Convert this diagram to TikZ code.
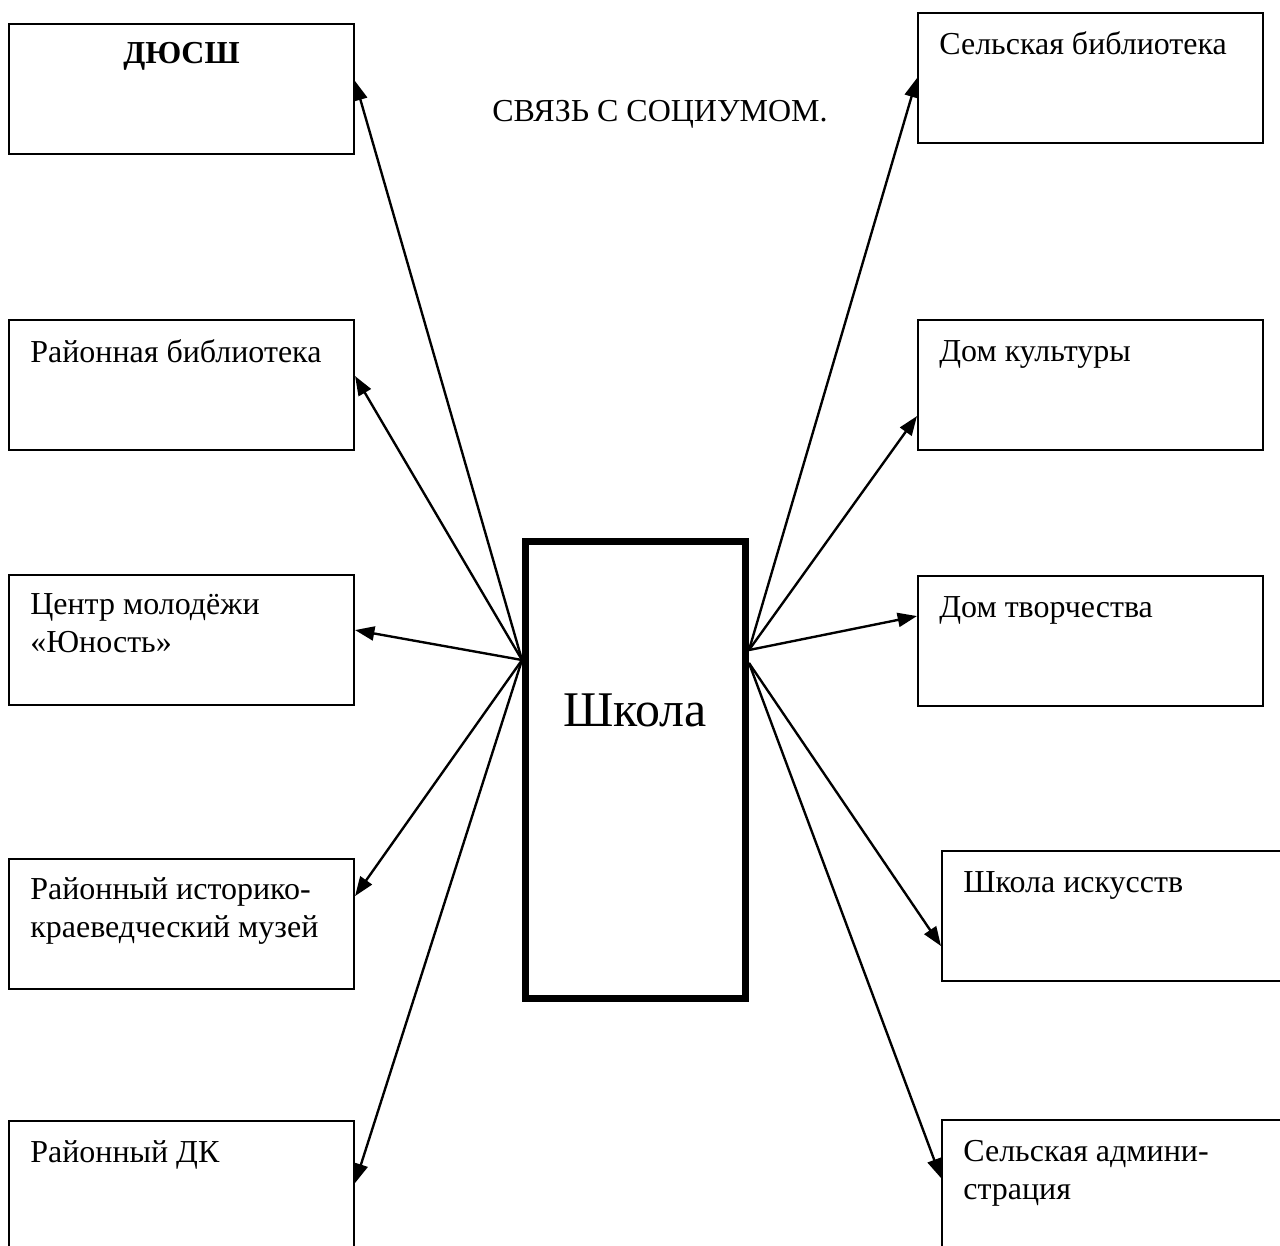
\documentclass[tikz,border=0pt]{standalone}
\usepackage{fontspec}
\setmainfont{Liberation Serif}
\usetikzlibrary{arrows.meta,calc}
\begin{document}
\begin{tikzpicture}[x=0.02cm, y=-0.02cm,
	box/.style={draw, line width=1.2pt, minimum width=6.9cm, minimum height=2.6cm, anchor=north west, inner sep=0pt},
	txt/.style={anchor=base west, inner sep=0pt, align=left, font=\fontsize{18.2}{21.6}\selectfont},
	link/.style={-{Triangle[length=11pt,width=8pt]}, line width=1.35pt}]
	\useasboundingbox (0,0) rectangle (1280,1245);
	
	\node[txt, anchor=base] (title) at (660,121) {СВЯЗЬ С СОЦИУМОМ.};
	
	\node[draw, line width=4pt, minimum width=4.4cm, minimum height=9.14cm, anchor=north west, inner sep=0pt] (shkola) at (522,538) {};
	\node[anchor=base, inner sep=0pt, font=\fontsize{28.4}{32}\selectfont] (shkola-t) at (635,726) {Школа};
	
	% left side
	\node[box] (dyussh) at (8,23) {};
	\node[box] (rbibl) at (8,319) {};
	\node[box] (centr) at (8,574) {};
	\node[box] (muzey) at (8,858) {};
	\node[box] (rdk) at (8,1120) {};
	
	\node[txt, anchor=base, font=\fontsize{18.2}{21.6}\selectfont\bfseries] (dyussh-t) at ($(dyussh.north)+(0,40)$) {ДЮСШ};
	\node[txt] (rbibl-t) at ($(rbibl.north west)+(22,43)$) {Районная библиотека};
	\node[txt] (centr-t) at ($(centr.north west)+(22,78)$) {Центр молодёжи\\«Юность»};
	\node[txt] (muzey-t) at ($(muzey.north west)+(22,79)$) {Районный историко-\\краеведческий музей};
	\node[txt] (rdk-t) at ($(rdk.north west)+(22,42)$) {Районный ДК};
	
	% right side
	\node[box] (sbibl) at (917,12) {};
	\node[box] (dkult) at (917,319) {};
	\node[box] (dtvor) at (917,575) {};
	\node[box] (shkisk) at (941,850) {};
	\node[box] (sadm) at (941,1119) {};
	
	\node[txt] (sbibl-t) at ($(sbibl.north west)+(22,42)$) {Сельская библиотека};
	\node[txt] (dkult-t) at ($(dkult.north west)+(22,42)$) {Дом культуры};
	\node[txt] (dtvor-t) at ($(dtvor.north west)+(22,42)$) {Дом творчества};
	\node[txt] (shkisk-t) at ($(shkisk.north west)+(22,42)$) {Школа искусств};
	\node[txt] (sadm-t) at ($(sadm.north west)+(22,80)$) {Сельская админи-\\страция};
	
	\coordinate (lft) at ($(shkola.north west)+(0,122)$);
	\coordinate (rtu) at ($(shkola.north east)+(0,112)$);
	\coordinate (rtd) at ($(shkola.north east)+(0,125)$);
	
	\draw[link] (lft) -- ($(dyussh.east)+(0,-8)$);
	\draw[link] (lft) -- ($(rbibl.east)+(0,-9)$);
	\draw[link] (lft) -- ($(centr.east)+(0,-10)$);
	\draw[link] (lft) -- ($(muzey.east)+(0,-28)$);
	\draw[link] (lft) -- ($(rdk.east)+(0,-3)$);
	
	\draw[link] (rtu) -- ($(sbibl.west)+(0,0)$);
	\draw[link] (rtu) -- ($(dkult.west)+(0,31)$);
	\draw[link] (rtu) -- ($(dtvor.west)+(0,-25)$);
	\draw[link] (rtd) -- ($(shkisk.west)+(0,30)$);
	\draw[link] (rtd) -- ($(sadm.west)+(0,-7)$);
	
\end{tikzpicture}
\end{document}
